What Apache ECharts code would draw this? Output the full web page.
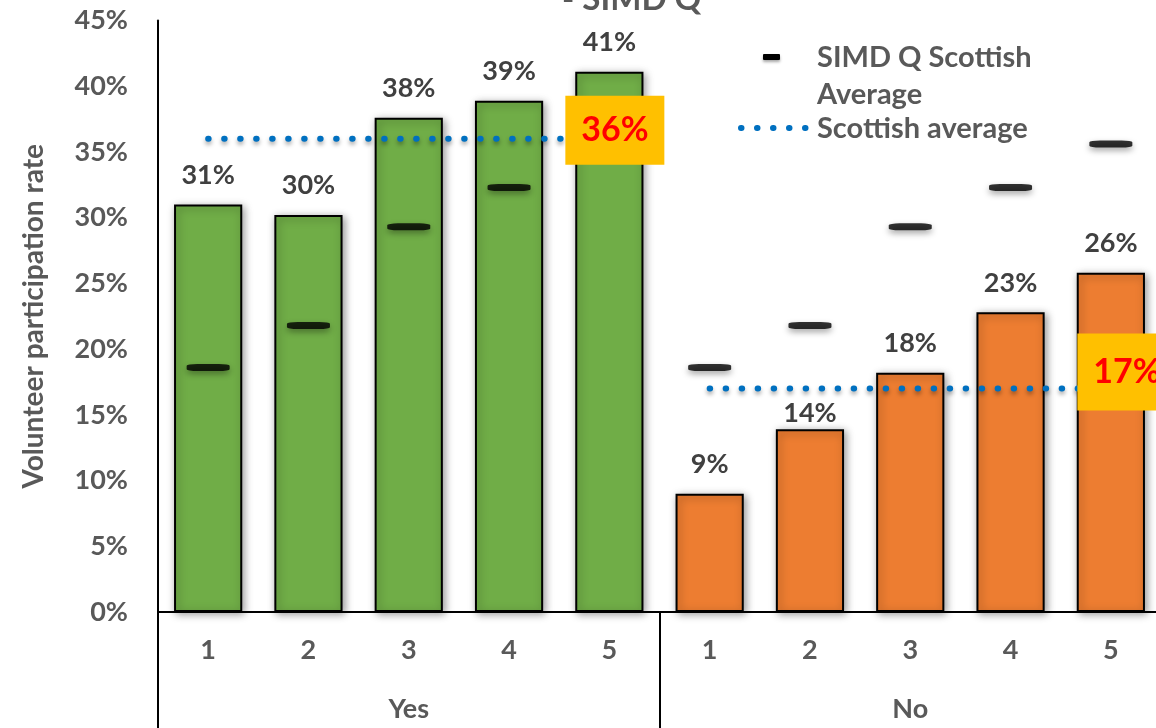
<!DOCTYPE html>
<html>
<head>
<meta charset="utf-8">
<script src="https://cdn.jsdelivr.net/npm/echarts@6/dist/echarts.min.js"></script>
<style>
  html, body { margin: 0; padding: 0; background: #ffffff; }
  #chart { width: 1156px; height: 728px; }
</style>
</head>
<body>
<div id="chart"></div>
<script>
// SIMD quintiles shown inside each group, and the two groups
const quintiles = ['1', '2', '3', '4', '5'];
const groups = ['Yes', 'No'];

// Volunteer participation rate by SIMD quintile
const yesRates = [0.310, 0.302, 0.376, 0.389, 0.411];
const noRates = [0.090, 0.139, 0.182, 0.228, 0.258];

// Scottish average for each SIMD quintile (black dashes)
const simdQAverage = [0.186, 0.218, 0.293, 0.323, 0.356];

// Overall Scottish average for each group (dotted lines)
const scottishAverage = [0.36, 0.17];

// Value axis ticks
const yMin = 0, yMax = 0.45, yStep = 0.05;

const FONT = 'Lato, "Open Sans", sans-serif';
const GREY = '#595959';
const DARK = '#404040';
const GREEN = '#70AD47';
const ORANGE = '#ED7D31';
const BLUE = '#0070C0';

const pct = v => Math.round(v * 100) + '%';

const categories = quintiles.concat(quintiles);
const markerValues = simdQAverage.concat(simdQAverage);

// The "No / 2" value label sits closer to its bar so it clears the dotted line
const barValues = yesRates.concat(noRates).map((v, i) =>
  i === quintiles.length + 1 ? { value: v, label: { distance: 2 } } : v
);

// Box label for the end of each average line
function avgLabel(offset, height) {
  return {
    show: true,
    position: 'inside',
    offset: offset,
    formatter: p => pct(p.value),
    fontFamily: FONT,
    fontSize: 34,
    fontWeight: 'bold',
    color: '#FF0000',
    backgroundColor: '#FFC000',
    width: 99,
    height: height,
    lineHeight: height,
    align: 'center',
    verticalAlign: 'middle',
    padding: 0
  };
}

function avgLineData(groupIndex, offset, height) {
  const v = scottishAverage[groupIndex];
  const points = quintiles.map((q, i) =>
    i === quintiles.length - 1 ? { value: v, label: avgLabel(offset, height) } : v
  );
  const blanks = quintiles.map(() => '-');
  return groupIndex === 0 ? points.concat(blanks) : blanks.concat(points);
}

const avgLineStyle = {
  color: BLUE,
  width: 6,
  type: [0.5, 15.5],
  cap: 'round',
  shadowColor: 'rgba(0,0,0,0.35)',
  shadowBlur: 4,
  shadowOffsetY: 3
};

const chart = echarts.init(document.getElementById('chart'), null, { renderer: 'canvas' });

chart.setOption({
  backgroundColor: '#ffffff',
  animation: false,
  textStyle: { fontFamily: FONT },
  title: {
    text: '- SIMD Q',
    left: 562,
    top: -17,
    padding: 0,
    textStyle: { fontFamily: FONT, fontSize: 33, fontWeight: 'bold', color: GREY }
  },
  grid: {
    left: 158,
    top: 20.5,
    width: 1003,
    bottom: 116,
    containLabel: false,
    outerBoundsMode: 'none'
  },
  xAxis: [
    {
      type: 'category',
      data: categories,
      position: 'bottom',
      axisLine: { show: true, lineStyle: { color: '#000000', width: 2 } },
      axisTick: { show: false },
      axisLabel: {
        margin: 25,
        fontFamily: FONT,
        fontSize: 27,
        fontWeight: 'bold',
        color: GREY
      },
      splitLine: { show: false }
    },
    {
      type: 'category',
      data: groups,
      position: 'bottom',
      axisLine: { show: false },
      axisTick: {
        show: true,
        length: 116,
        lineStyle: { color: '#000000', width: 2 }
      },
      axisLabel: {
        margin: 84,
        fontFamily: FONT,
        fontSize: 27,
        fontWeight: 'bold',
        color: GREY
      },
      splitLine: { show: false }
    }
  ],
  yAxis: {
    type: 'value',
    min: yMin,
    max: yMax,
    interval: yStep,
    name: 'Volunteer participation rate',
    nameLocation: 'middle',
    nameGap: 110,
    nameTextStyle: { fontFamily: FONT, fontSize: 28, fontWeight: 'bold', color: GREY },
    axisLine: { show: true, lineStyle: { color: '#000000', width: 2 } },
    axisTick: { show: false },
    splitLine: { show: false },
    axisLabel: {
      margin: 30,
      formatter: v => pct(v),
      fontFamily: FONT,
      fontSize: 27,
      fontWeight: 'bold',
      color: GREY
    }
  },
  series: [
    {
      name: 'Volunteer participation rate',
      type: 'bar',
      xAxisIndex: 0,
      data: barValues,
      barWidth: '68%',
      itemStyle: {
        color: p => (p.dataIndex < quintiles.length ? GREEN : ORANGE),
        borderColor: '#000000',
        borderWidth: 2,
        shadowColor: 'rgba(0,0,0,0.4)',
        shadowBlur: 8,
        shadowOffsetX: 2,
        shadowOffsetY: 2
      },
      label: {
        show: true,
        position: 'top',
        distance: 16,
        formatter: p => pct(p.value),
        fontFamily: FONT,
        fontSize: 27,
        fontWeight: 'bold',
        color: DARK
      },
      z: 2
    },
    {
      name: 'SIMD Q Scottish Average',
      type: 'scatter',
      xAxisIndex: 0,
      data: markerValues,
      symbol: 'roundRect',
      symbolSize: [43, 7],
      itemStyle: {
        color: '#000000',
        shadowColor: 'rgba(0,0,0,0.45)',
        shadowBlur: 6,
        shadowOffsetY: 3
      },
      z: 3
    },
    {
      name: 'Scottish average',
      type: 'line',
      xAxisIndex: 0,
      data: avgLineData(0, [5.5, -8.5], 69),
      symbol: 'circle',
      symbolSize: 1,
      itemStyle: { color: 'rgba(0,0,0,0)' },
      lineStyle: avgLineStyle,
      connectNulls: false,
      z: 4
    },
    {
      name: 'Scottish average',
      type: 'line',
      xAxisIndex: 0,
      data: avgLineData(1, [16, -16.5], 77),
      symbol: 'circle',
      symbolSize: 1,
      itemStyle: { color: 'rgba(0,0,0,0)' },
      lineStyle: avgLineStyle,
      connectNulls: false,
      z: 4
    }
  ],
  // Key for the dash markers and the dotted average lines
  graphic: [
    {
      type: 'rect',
      shape: { x: 763, y: 54, width: 17, height: 6, r: 1 },
      style: { fill: '#000000', shadowColor: 'rgba(0,0,0,0.35)', shadowBlur: 3, shadowOffsetY: 2 }
    },
    {
      type: 'text',
      style: {
        x: 817, y: 58, text: 'SIMD Q Scottish',
        fontFamily: FONT, fontSize: 29, fontWeight: 'bold', fill: GREY,
        verticalAlign: 'middle', align: 'left'
      }
    },
    {
      type: 'text',
      style: {
        x: 817, y: 95, text: 'Average',
        fontFamily: FONT, fontSize: 29, fontWeight: 'bold', fill: GREY,
        verticalAlign: 'middle', align: 'left'
      }
    },
    {
      type: 'line',
      shape: { x1: 741, y1: 128, x2: 806, y2: 128 },
      style: { stroke: BLUE, lineWidth: 6, lineDash: [0.5, 15.5], lineCap: 'round' }
    },
    {
      type: 'text',
      style: {
        x: 817, y: 129, text: 'Scottish average',
        fontFamily: FONT, fontSize: 29, fontWeight: 'bold', fill: GREY,
        verticalAlign: 'middle', align: 'left'
      }
    }
  ]
});
</script>
</body>
</html>
